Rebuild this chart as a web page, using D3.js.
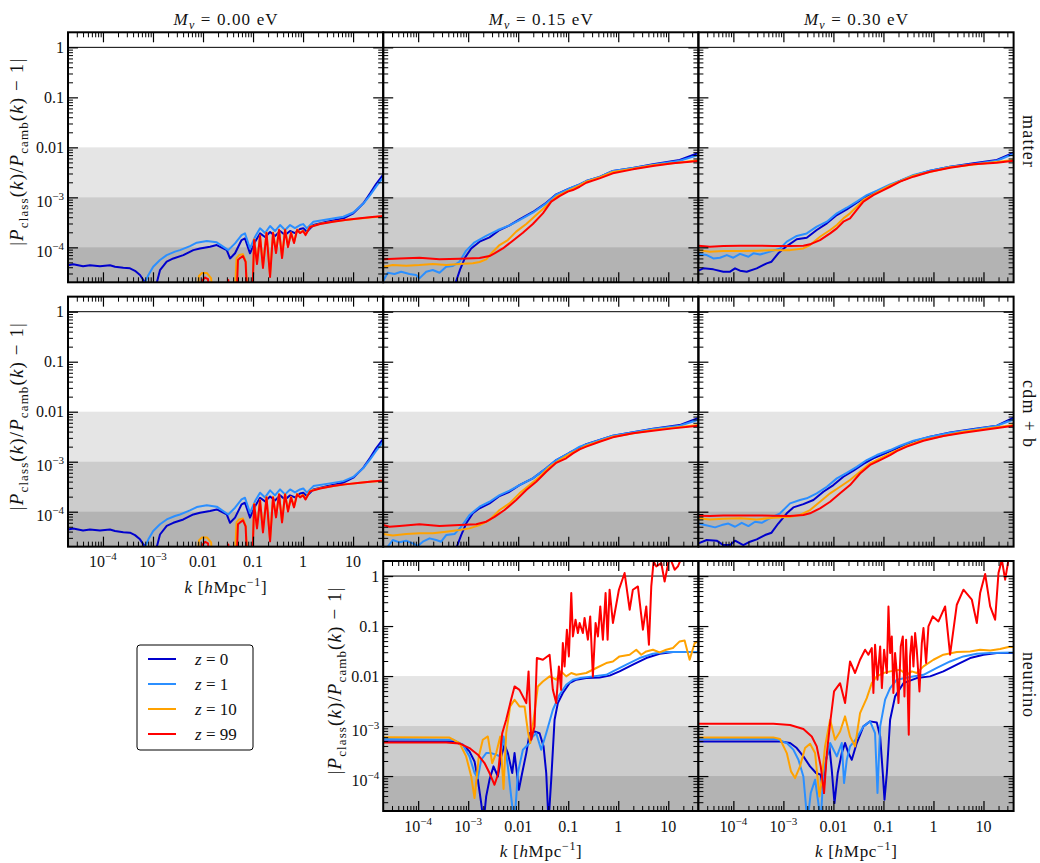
<!DOCTYPE html>
<html>
<head>
<meta charset="utf-8">
<title>CLASS vs CAMB power spectra</title>
<script src="https://cdn.jsdelivr.net/npm/d3@7/dist/d3.min.js"></script>
<style>
  html, body { margin: 0; padding: 0; background: #fff; }
  #fig text { fill: #111; }
</style>
</head>
<body>
<svg id="fig" width="1040" height="863"></svg>
<script>
// ---------------- data ----------------
const massLabels = ["0.00", "0.15", "0.30"];
const speciesLabels = ["matter", "cdm + b", "neutrino"];
const redshiftLabels = ["0", "1", "10", "99"];
const kTicks = [1e-4, 1e-3, 1e-2, 1e-1, 1, 10];
const kTickText = [["10", "−4"], ["10", "−3"], ["0.01"], ["0.1"], ["1"], ["10"]];
const yTicks = [1e-4, 1e-3, 1e-2, 1e-1, 1];
const yTickText = [["10", "−4"], ["10", "−3"], ["0.01"], ["0.1"], ["1"]];
const toleranceLevels = [1e-2, 1e-3, 1e-4];
const kDomain = [2e-5, 40];
const ratioDomain = [2e-5, 2];

// |P_class/P_camb - 1| as [k, value]; values under 2e-5 fall off the bottom
// ---- matter (and cdm+b), M_nu = 0.00 eV ----
const m000_z0 = [[2.0e-5,4.4e-5],[2.55e-5,4.6e-5],[4.0e-5,4.2e-5],[5.5e-5,4.4e-5],[8.7e-5,4.2e-5],[1.38e-4,4.4e-5],[1.74e-4,4.1e-5],[2.55e-4,3.9e-5],[3.47e-4,3.8e-5],[4.37e-4,3.4e-5],[5.5e-4,2.8e-5],[6.9e-4,2.0e-5],[7.6e-4,1.4e-5],[1.1e-3,1.3e-5],[1.19e-3,1.96e-5],[1.38e-3,3.5e-5],[1.88e-3,5.2e-5],[2.55e-3,6.0e-5],[4.04e-3,7.0e-5],[6.4e-3,8.8e-5],[8.7e-3,9.5e-5],[1.38e-2,1.03e-4],[1.88e-2,1.11e-4],[2.98e-2,8.8e-5],[3.47e-2,6.0e-5],[4.37e-2,7.6e-5],[5.9e-2,1.4e-4],[6.9e-2,1.51e-4],[8.7e-2,7.6e-5],[0.11,1.29e-4],[0.138,1.9e-4],[0.174,1.61e-4],[0.219,2.02e-4],[0.275,1.68e-4],[0.347,2.12e-4],[0.437,1.76e-4],[0.55,2.12e-4],[0.69,1.93e-4],[0.87,2.32e-4],[1.01,2.4e-4],[1.19,2.05e-4],[1.61,2.79e-4],[2.98,3.25e-4],[6.4,3.8e-4],[10.1,4.79e-4],[16.1,7.6e-4],[21.9,1.2e-3],[28.8,1.85e-3],[40,2.85e-3]];
const m000_z1 = [[6.3e-4,1.4e-5],[6.9e-4,1.96e-5],[8.1e-4,2.8e-5],[1.01e-3,4.1e-5],[1.38e-3,5.6e-5],[1.88e-3,7.0e-5],[2.75e-3,8.2e-5],[3.47e-3,8.8e-5],[5.5e-3,1.06e-4],[7.5e-3,1.24e-4],[1.19e-2,1.34e-4],[1.88e-2,1.26e-4],[3.2e-2,8.8e-5],[4.37e-2,1.2e-4],[5.9e-2,1.76e-4],[6.9e-2,1.9e-4],[8.7e-2,9.5e-5],[0.11,1.63e-4],[0.138,2.4e-4],[0.174,1.93e-4],[0.219,2.67e-4],[0.275,2.12e-4],[0.347,2.79e-4],[0.437,2.22e-4],[0.55,2.79e-4],[0.69,2.43e-4],[0.87,2.79e-4],[1.01,2.92e-4],[1.19,2.4e-4],[1.61,3.25e-4],[2.98,3.6e-4],[6.4,4.09e-4],[10.1,4.97e-4],[16.1,7.5e-4],[21.9,1.11e-3],[28.8,1.64e-3],[40,2.5e-3]];
const m000_z10 = [[7.2e-3,5e-6],[8.3e-3,2.67e-5],[9.5e-3,3.06e-5],[1.2e-2,3.06e-5],[1.45e-2,2.43e-5],[1.66e-2,5e-6],[4.17e-2,5e-6],[4.68e-2,6.1e-5],[5.25e-2,7.0e-5],[6.3e-2,7.3e-5],[7.2e-2,5.1e-5],[7.9e-2,5e-6],[9.5e-2,5e-6],[0.105,1.45e-4],[0.12,5.0e-5],[0.138,1.72e-4],[0.158,4.2e-5],[0.186,1.98e-4],[0.219,2.8e-5],[0.251,1.98e-4],[0.288,8.0e-5],[0.331,2.27e-4],[0.38,6.4e-5],[0.437,2.27e-4],[0.5,1.05e-4],[0.575,1.98e-4],[0.66,1.26e-4],[0.76,2.27e-4],[0.87,1.98e-4],[1.0,2.17e-4],[1.12,1.8e-4],[1.38,2.6e-4],[2.19,2.95e-4],[3.98,3.27e-4],[6.9,3.52e-4],[13.8,3.78e-4],[24,4.0e-4],[40,4.12e-4]];
const m000_z99 = [[8.7e-3,5e-6],[9.8e-3,2.22e-5],[1.1e-2,2.49e-5],[1.26e-2,2.32e-5],[1.41e-2,5e-6],[2.88e-2,5e-6],[3.2e-2,2.22e-5],[3.55e-2,5e-6],[4.57e-2,5e-6],[5.0e-2,5.6e-5],[5.5e-2,6.1e-5],[6.3e-2,6.7e-5],[7.1e-2,5.1e-5],[7.9e-2,5e-6],[9.5e-2,5e-6],[0.105,1.4e-4],[0.12,4.63e-5],[0.138,1.68e-4],[0.158,3.86e-5],[0.186,1.93e-4],[0.219,2.55e-5],[0.251,1.93e-4],[0.288,7.7e-5],[0.331,2.22e-4],[0.38,6.1e-5],[0.437,2.22e-4],[0.5,1.01e-4],[0.575,1.93e-4],[0.66,1.22e-4],[0.76,2.22e-4],[0.87,1.93e-4],[1.0,2.12e-4],[1.12,1.76e-4],[1.38,2.55e-4],[2.19,2.92e-4],[3.98,3.25e-4],[6.9,3.52e-4],[13.8,3.8e-4],[24,4.04e-4],[40,4.22e-4]];

// ---- matter, M_nu = 0.15 eV ----
const m015_z0 = [[2e-5,5e-6],[4.24e-4,5e-6],[5.6e-4,1.96e-5],[6.9e-4,3.63e-5],[8.7e-4,6.3e-5],[1.15e-3,9.5e-5],[1.69e-3,1.3e-4],[2.67e-3,1.58e-4],[4.24e-3,2.22e-4],[6.7e-3,2.75e-4],[1.06e-2,3.63e-4],[1.96e-2,5.1e-4],[3.63e-2,7.8e-4],[5.75e-2,1.15e-3],[9.8e-2,1.45e-3],[0.169,1.82e-3],[0.229,2.12e-3],[0.424,2.55e-3],[0.78,3.36e-3],[1.96,3.85e-3],[4.93,4.57e-3],[16.9,5.6e-3],[40,7.7e-3]];
const m015_z1 = [[2e-5,2.12e-5],[2.47e-5,3.11e-5],[3.36e-5,2.93e-5],[4.57e-5,3.26e-5],[6.7e-5,2.93e-5],[9.1e-5,2.8e-5],[1.06e-4,2.4e-5],[1.45e-4,3.26e-5],[1.96e-4,3.52e-5],[2.67e-4,3.11e-5],[3.63e-4,4.1e-5],[4.93e-4,4.24e-5],[6.7e-4,5.16e-5],[9.1e-4,8.6e-5],[1.34e-3,1.26e-4],[2.29e-3,1.69e-4],[3.92e-3,2.22e-4],[6.7e-3,2.75e-4],[1.06e-2,3.52e-4],[1.96e-2,4.93e-4],[3.63e-2,7.6e-4],[5.75e-2,1.13e-3],[9.8e-2,1.45e-3],[0.169,1.82e-3],[0.229,2.12e-3],[0.424,2.55e-3],[0.78,3.36e-3],[1.96,3.85e-3],[4.93,4.5e-3],[16.9,5.4e-3],[40,7.0e-3]];
const m015_z10 = [[2e-5,4.1e-5],[3.11e-5,4.43e-5],[5.75e-5,4.3e-5],[1.06e-4,4.43e-5],[1.96e-4,4.64e-5],[3.63e-4,4.43e-5],[6.7e-4,4.64e-5],[1.24e-3,4.79e-5],[1.69e-3,5.1e-5],[2.29e-3,5.75e-5],[3.11e-3,8.2e-5],[4.24e-3,1.11e-4],[6.2e-3,1.4e-4],[9.1e-3,2.06e-4],[1.45e-2,2.93e-4],[2.29e-2,4.43e-4],[3.63e-2,6.7e-4],[5.75e-2,1.03e-3],[9.8e-2,1.34e-3],[0.169,1.74e-3],[0.229,2.06e-3],[0.424,2.5e-3],[0.78,3.21e-3],[1.96,3.75e-3],[4.93,4.4e-3],[16.9,5.0e-3],[40,5.5e-3]];
const m015_z99 = [[2e-5,5.75e-5],[4.24e-5,6.0e-5],[1.06e-4,6.2e-5],[2.67e-4,5.8e-5],[6.7e-4,5.9e-5],[1.69e-3,6.1e-5],[2.67e-3,6.7e-5],[3.36e-3,7.6e-5],[4.93e-3,9.5e-5],[7.8e-3,1.36e-4],[1.24e-2,1.96e-4],[1.96e-2,2.93e-4],[3.11e-2,4.79e-4],[4.57e-2,8.2e-4],[6.7e-2,1.06e-3],[9.8e-2,1.3e-3],[0.124,1.4e-3],[0.169,1.63e-3],[0.229,1.96e-3],[0.424,2.4e-3],[0.78,3.02e-3],[1.96,3.63e-3],[4.93,4.24e-3],[12.4,4.79e-3],[40,5.33e-3]];

// ---- matter, M_nu = 0.30 eV ----
const m030_z0 = [[2e-5,3.41e-5],[2.51e-5,3.8e-5],[3.98e-5,3.63e-5],[6.3e-5,3.26e-5],[8.6e-5,3.26e-5],[1.08e-4,3.8e-5],[1.36e-4,3.41e-5],[1.85e-4,3.26e-5],[2.93e-4,3.8e-5],[4.64e-4,4.79e-5],[5.8e-4,5.16e-5],[7.9e-4,7.6e-5],[1.17e-3,1.06e-4],[1.85e-3,1.45e-4],[2.93e-3,1.56e-4],[4.64e-3,2.22e-4],[7.4e-3,3.02e-4],[1.17e-2,4.43e-4],[1.85e-2,5.75e-4],[2.93e-2,7.8e-4],[4.64e-2,1.06e-3],[7.4e-2,1.32e-3],[0.136,1.74e-3],[0.215,2.12e-3],[0.398,2.71e-3],[0.857,3.41e-3],[2.15,4.1e-3],[6.3,4.79e-3],[18.5,5.58e-3],[40,7.8e-3]];
const m030_z1 = [[2e-5,7.4e-5],[2.93e-5,7.0e-5],[3.98e-5,6.0e-5],[5.4e-5,6.2e-5],[7.4e-5,7.0e-5],[1e-4,6.2e-5],[1.36e-4,7.4e-5],[2e-4,6.5e-5],[2.51e-4,7.6e-5],[3.41e-4,7.2e-5],[5.4e-4,8.2e-5],[8.6e-4,9.5e-5],[1.17e-3,1.3e-4],[1.85e-3,1.69e-4],[2.93e-3,1.9e-4],[4.64e-3,2.59e-4],[7.4e-3,3.26e-4],[1.17e-2,4.79e-4],[1.85e-2,6.2e-4],[2.93e-2,8.2e-4],[4.64e-2,1.11e-3],[7.4e-2,1.36e-3],[0.136,1.82e-3],[0.215,2.15e-3],[0.398,2.8e-3],[0.857,3.41e-3],[2.15,4.1e-3],[6.3,4.64e-3],[18.5,5.4e-3],[40,7.4e-3]];
const m030_z10 = [[2e-5,8.8e-5],[3.41e-5,8.2e-5],[6.3e-5,8.45e-5],[1.36e-4,8.45e-5],[2.93e-4,8.6e-5],[6.3e-4,8.8e-5],[1.36e-3,8.8e-5],[2.51e-3,9.5e-5],[3.41e-3,1.11e-4],[5.4e-3,1.63e-4],[8.6e-3,2.22e-4],[1.17e-2,2.8e-4],[1.58e-2,3.8e-4],[2.15e-2,4.79e-4],[2.93e-2,6.5e-4],[3.98e-2,8.9e-4],[6.3e-2,1.15e-3],[0.1,1.47e-3],[0.136,1.74e-3],[0.398,2.71e-3],[2.15,4.0e-3],[40,5.6e-3]];
const m030_z99 = [[2e-5,1.08e-4],[3.41e-5,1.03e-4],[6.3e-5,1.06e-4],[1.36e-4,1.08e-4],[2.93e-4,1.08e-4],[6.3e-4,1.06e-4],[1.36e-3,1.06e-4],[2.51e-3,1.08e-4],[3.41e-3,1.15e-4],[5.4e-3,1.4e-4],[8.6e-3,1.9e-4],[1.17e-2,2.4e-4],[1.58e-2,3.26e-4],[2.15e-2,3.8e-4],[2.93e-2,5.6e-4],[3.98e-2,8.2e-4],[6.3e-2,1.11e-3],[0.1,1.4e-3],[0.136,1.63e-3],[0.215,2.06e-3],[0.398,2.59e-3],[0.857,3.26e-3],[2.15,3.92e-3],[6.3,4.57e-3],[18.5,4.93e-3],[40,5.4e-3]];

// ---- cdm + b, M_nu = 0.15 eV ----
const c015_z0 = [[2e-5,5e-6],[4.57e-4,5e-6],[5.93e-4,2e-5],[7.24e-4,3.41e-5],[9.1e-4,5.8e-5],[1.24e-3,9.3e-5],[1.69e-3,1.17e-4],[2.67e-3,1.47e-4],[4.24e-3,2.06e-4],[6.7e-3,2.51e-4],[1.06e-2,3.41e-4],[1.96e-2,4.64e-4],[3.63e-2,7.4e-4],[5.75e-2,1.08e-3],[0.106,1.51e-3],[0.229,2.24e-3],[0.78,3.31e-3],[4.93,4.57e-3],[16.9,5.4e-3],[40,7.5e-3]];
const c015_z1 = [[2e-5,1.5e-5],[2.47e-5,2e-5],[3.11e-5,2.71e-5],[4.24e-5,2.44e-5],[5.75e-5,2.63e-5],[7.8e-5,2.33e-5],[9.85e-5,2.06e-5],[1.24e-4,2.51e-5],[1.69e-4,2.93e-5],[2.29e-4,2.71e-5],[2.88e-4,2.51e-5],[3.63e-4,3.41e-5],[5.33e-4,3.57e-5],[7.24e-4,5.0e-5],[1.06e-3,8.6e-5],[1.69e-3,1.26e-4],[2.67e-3,1.58e-4],[4.24e-3,2.15e-4],[6.7e-3,2.63e-4],[1.06e-2,3.41e-4],[1.96e-2,4.64e-4],[3.63e-2,7.4e-4],[5.75e-2,1.08e-3],[0.106,1.51e-3],[0.169,2.0e-3],[0.229,2.22e-3],[0.78,3.31e-3],[4.93,4.5e-3],[16.9,5.25e-3],[40,6.9e-3]];
const c015_z10 = [[2e-5,3.57e-5],[3.11e-5,3.36e-5],[5.75e-5,3.57e-5],[1.06e-4,3.69e-5],[1.96e-4,3.69e-5],[3.63e-4,3.98e-5],[6.7e-4,4.3e-5],[1.06e-3,4.64e-5],[1.69e-3,5.4e-5],[2.67e-3,6.8e-5],[4.24e-3,1.08e-4],[6.7e-3,1.47e-4],[1.06e-2,2.33e-4],[1.69e-2,3.41e-4],[2.67e-2,5.0e-4],[4.24e-2,7.9e-4],[6.7e-2,1.08e-3],[0.106,1.42e-3],[0.229,2.09e-3],[0.78,3.16e-3],[4.93,4.3e-3],[40,5.4e-3]];
const c015_z99 = [[2e-5,5.4e-5],[2.67e-5,5.0e-5],[4.24e-5,5.16e-5],[1.06e-4,5.6e-5],[2.67e-4,5.16e-5],[6.7e-4,5.4e-5],[1.45e-3,5.6e-5],[2.29e-3,6.3e-5],[3.36e-3,7.9e-5],[5.33e-3,1.08e-4],[9.1e-3,1.71e-4],[1.45e-2,2.71e-4],[2.29e-2,3.98e-4],[3.63e-2,6.3e-4],[5.75e-2,9.5e-4],[9.1e-2,1.17e-3],[0.124,1.47e-3],[0.169,1.77e-3],[0.229,2.0e-3],[0.424,2.51e-3],[0.78,3.07e-3],[1.96,3.69e-3],[4.93,4.17e-3],[12.4,4.64e-3],[40,5.25e-3]];

// ---- cdm + b, M_nu = 0.30 eV ----
const c030_z0 = [[2e-5,2.33e-5],[2.93e-5,2.71e-5],[4.64e-5,2.63e-5],[6.3e-5,2.15e-5],[8.6e-5,2.15e-5],[1.08e-4,2.63e-5],[1.58e-4,2.15e-5],[2.15e-4,2.51e-5],[2.93e-4,2.8e-5],[4.3e-4,3.41e-5],[5.8e-4,3.8e-5],[7.9e-4,5.8e-5],[1.17e-3,9.3e-5],[1.58e-3,1.22e-4],[2.51e-3,1.42e-4],[3.98e-3,1.71e-4],[6.3e-3,2.51e-4],[1e-2,3.41e-4],[1.58e-2,5.0e-4],[2.51e-2,6.6e-4],[3.98e-2,9.0e-4],[6.3e-2,1.17e-3],[0.1,1.42e-3],[0.185,1.85e-3],[0.398,2.55e-3],[0.857,3.16e-3],[2.15,3.86e-3],[6.3,4.5e-3],[18.5,5.25e-3],[40,7.6e-3]];
const c030_z1 = [[2e-5,5.8e-5],[2.71e-5,5.4e-5],[4.3e-5,4.86e-5],[5.85e-5,5.4e-5],[7.94e-5,5.8e-5],[1.08e-4,5.0e-5],[1.47e-4,6.0e-5],[2e-4,5.16e-5],[2.71e-4,6.3e-5],[3.69e-4,6.0e-5],[5.4e-4,7.4e-5],[8.6e-4,9.3e-5],[1.36e-3,1.47e-4],[2.15e-3,1.71e-4],[2.93e-3,1.85e-4],[4.64e-3,2.33e-4],[7.4e-3,3.16e-4],[1.17e-2,4.64e-4],[1.85e-2,6.0e-4],[2.93e-2,7.9e-4],[4.64e-2,1.08e-3],[7.4e-2,1.36e-3],[0.136,1.71e-3],[0.215,2.09e-3],[0.398,2.63e-3],[0.857,3.16e-3],[2.15,3.8e-3],[6.3,4.43e-3],[18.5,5.25e-3],[40,7.0e-3]];
const c030_z10 = [[2e-5,7.4e-5],[3.41e-5,7.0e-5],[6.3e-5,7.2e-5],[1.36e-4,7.4e-5],[2.93e-4,7.0e-5],[6.3e-4,7.6e-5],[1.36e-3,7.9e-5],[2.15e-3,8.6e-5],[3.41e-3,1.08e-4],[5.4e-3,1.58e-4],[8.6e-3,2.33e-4],[1.36e-2,3.16e-4],[2.15e-2,4.3e-4],[3.41e-2,6.3e-4],[5.41e-2,9.3e-4],[8.57e-2,1.17e-3],[0.136,1.47e-3],[0.293,2.09e-3],[0.631,2.71e-3],[3.98,3.98e-3],[40,5.4e-3]];
const c030_z99 = [[2e-5,8.3e-5],[3.41e-5,8.2e-5],[6.3e-5,8.4e-5],[1.36e-4,8.4e-5],[2.93e-4,8.4e-5],[6.3e-4,8.3e-5],[1.36e-3,8.2e-5],[2.51e-3,8.6e-5],[3.41e-3,9.3e-5],[5.4e-3,1.17e-4],[8.6e-3,1.58e-4],[1.36e-2,2.33e-4],[2.15e-2,3.41e-4],[3.41e-2,5.8e-4],[5.41e-2,8.6e-4],[8.57e-2,1.08e-3],[0.136,1.36e-3],[0.185,1.63e-3],[0.293,2.0e-3],[0.631,2.63e-3],[1.58,3.26e-3],[3.98,3.8e-3],[13.6,4.5e-3],[40,5.25e-3]];

// ---- neutrino, M_nu = 0.15 eV ----
const n015_z0 = [[2e-5,4.93e-4],[4.93e-4,4.93e-4],[7.8e-4,4.24e-4],[1.06e-3,3.11e-4],[1.34e-3,1.96e-4],[1.56e-3,8.5e-5],[1.82e-3,2.88e-5],[2.03e-3,1.2e-5],[2.29e-3,3.92e-5],[2.67e-3,8.5e-5],[3.21e-3,1.56e-4],[3.92e-3,9.8e-5],[4.57e-3,2.47e-4],[5.33e-3,4.24e-4],[6.2e-3,2.88e-4],[7.6e-3,1.15e-4],[8.45e-3,2.88e-4],[1.03e-2,5.3e-5],[1.2e-2,1.15e-4],[1.45e-2,2.88e-4],[1.69e-2,7.2e-4],[2.12e-2,7.8e-4],[2.67e-2,7.2e-4],[3.21e-2,3.92e-4],[3.63e-2,1.15e-4],[4.04e-2,1.2e-5],[4.57e-2,8.5e-5],[5.33e-2,1.34e-3],[6.2e-2,2.88e-3],[7.8e-2,4.57e-3],[0.106,7.2e-3],[0.145,8.45e-3],[0.229,9.1e-3],[0.424,9.4e-3],[0.671,1.02e-2],[1.06,1.24e-2],[1.96,1.69e-2],[3.63,2.29e-2],[6.7,2.8e-2],[12.4,3.02e-2],[40,3.02e-2]];
const n015_z1 = [[2e-5,5.5e-4],[4.93e-4,5.33e-4],[7.8e-4,4.24e-4],[1.06e-3,2.47e-4],[1.34e-3,1.15e-4],[1.56e-3,9.1e-5],[1.82e-3,2.12e-4],[2.29e-3,2.88e-4],[2.88e-3,2.88e-4],[3.63e-3,2.67e-4],[4.37e-3,2.47e-4],[5.09e-3,6.2e-4],[6.2e-3,1.56e-4],[7.6e-3,2.47e-5],[8.45e-3,1.2e-5],[9.85e-3,1.15e-4],[1.24e-2,3.37e-4],[1.69e-2,4.57e-4],[1.96e-2,6.2e-4],[2.29e-2,7.2e-4],[2.88e-2,3.37e-4],[3.63e-2,7.2e-4],[4.93e-2,2.12e-3],[6.7e-2,4.24e-3],[9.1e-2,6.7e-3],[0.124,8.45e-3],[0.169,9.1e-3],[0.311,9.85e-3],[0.575,1.06e-2],[0.782,1.24e-2],[1.45,1.69e-2],[2.67,2.29e-2],[4.93,2.8e-2],[9.1,3.02e-2],[16.9,3.02e-2],[40,3.02e-2]];
const n015_z10 = [[2e-5,6.0e-4],[4.24e-4,5.9e-4],[6.7e-4,4.57e-4],[9.1e-4,2.47e-4],[1.15e-3,9.8e-5],[1.34e-3,3.63e-5],[1.63e-3,2.47e-4],[1.96e-3,5.33e-4],[2.47e-3,6.2e-4],[3.02e-3,1.82e-4],[3.63e-3,2.88e-4],[4.37e-3,6.2e-4],[5.09e-3,5.5e-5],[5.75e-3,7.24e-4],[6.9e-3,2.47e-3],[8.45e-3,3.36e-3],[1.06e-2,2.47e-3],[1.34e-2,2.47e-3],[1.56e-2,7.8e-4],[1.74e-2,4.57e-4],[2.03e-2,1.34e-3],[2.47e-2,6.2e-3],[3.11e-2,7.8e-3],[4.24e-2,9.85e-3],[5.75e-2,8.45e-3],[7.2e-2,1.24e-2],[9.1e-2,9.85e-3],[0.115,1.15e-2],[0.145,1.06e-2],[0.229,1.15e-2],[0.363,1.45e-2],[0.575,1.82e-2],[0.782,1.96e-2],[1.06,2.47e-2],[1.69,2.67e-2],[2.29,3.36e-2],[2.88,2.67e-2],[3.63,3.11e-2],[4.93,3.36e-2],[6.7,2.97e-2],[9.1,3.36e-2],[12.4,3.63e-2],[16.9,4.93e-2],[21.2,5.16e-2],[26.7,2.12e-2],[33.7,4.57e-2],[40,5.0e-2]];
const n015_z99 = [[2e-5,4.7e-4],[7.8e-5,4.7e-4],[3.63e-4,4.7e-4],[6.7e-4,4.5e-4],[1.06e-3,3.63e-4],[1.56e-3,2.67e-4],[2.12e-3,1.82e-4],[2.67e-3,1.15e-4],[3.36e-3,6.7e-5],[3.92e-3,1.06e-4],[4.79e-3,7.2e-4],[5.75e-3,1.34e-3],[7.2e-3,3.36e-3],[8.45e-3,6.2e-3],[1.06e-2,5.3e-3],[1.45e-2,2.88e-3],[1.61e-2,1.24e-2],[1.82e-2,5.3e-4],[2.12e-2,9.8e-4],[2.36e-2,2.29e-2],[3.11e-2,2.12e-2],[4.24e-2,2.67e-2],[4.93e-2,5.3e-3],[5.75e-2,2.88e-3],[6.5e-2,1.56e-2],[7.2e-2,5.3e-3],[7.8e-2,4.57e-2],[8.45e-2,1.56e-2],[9.4e-2,8.45e-2],[0.103,2.47e-2],[0.115,0.457],[0.124,6.2e-2],[0.14,0.134],[0.156,7.24e-2],[0.169,0.115],[0.196,7.24e-2],[0.212,0.145],[0.247,5.33e-2],[0.275,0.156],[0.311,9.85e-3],[0.352,0.115],[0.392,6.2e-2],[0.437,0.247],[0.493,5.33e-2],[0.558,0.457],[0.612,5.33e-2],[0.671,0.533],[0.782,0.115],[1.03,0.533],[1.34,1.15],[1.69,0.212],[1.96,0.533],[2.47,0.62],[3.11,8.45e-2],[3.63,0.247],[4.1,4.24e-2],[4.57,0.62],[5.09,1.96],[5.75,1.56],[7.24,1.82],[8.45,0.78],[10.6,2.47],[13.4,1.34],[15.6,1.56],[18.2,2.29],[22.9,2.88],[36.3,3.36]];

// ---- neutrino, M_nu = 0.30 eV ----
const n030_z0 = [[2e-5,4.93e-4],[8.57e-4,4.93e-4],[1.36e-3,4.57e-4],[1.85e-3,3.63e-4],[2.51e-3,2.47e-4],[3.41e-3,1.56e-4],[4.5e-3,1.15e-4],[5.58e-3,1.06e-4],[6.3e-3,4.57e-5],[7.13e-3,2.12e-4],[8.3e-3,3.92e-4],[9.26e-3,1.34e-4],[1.05e-2,2.88e-5],[1.22e-2,1.15e-4],[1.47e-2,2.88e-4],[1.71e-2,4.57e-4],[2.0e-2,2.88e-4],[2.33e-2,2.12e-4],[2.93e-2,4.57e-4],[3.98e-2,9.85e-4],[5.41e-2,1.24e-3],[7.36e-2,1.18e-3],[8.6e-2,6.2e-4],[9.7e-2,1.15e-4],[0.105,3.37e-5],[0.117,1.15e-4],[0.136,1.34e-3],[0.171,3.92e-3],[0.251,7.2e-3],[0.464,9.1e-3],[0.857,9.85e-3],[1.58,1.24e-2],[2.93,1.69e-2],[5.41,2.29e-2],[10,2.67e-2],[18.5,2.88e-2],[40,2.88e-2]];
const n030_z1 = [[2e-5,5.5e-4],[7.36e-4,5.5e-4],[1.17e-3,4.57e-4],[1.58e-3,3.37e-4],[2e-3,2.12e-4],[2.51e-3,9.8e-5],[3.02e-3,1.2e-5],[3.52e-3,4.57e-5],[4.3e-3,8.45e-5],[5.0e-3,2.88e-5],[5.58e-3,1.2e-5],[6.3e-3,1.15e-4],[7.4e-3,2.47e-4],[8.6e-3,4.57e-4],[1.17e-2,2.47e-4],[1.47e-2,4.57e-4],[1.63e-2,7.24e-5],[1.85e-2,2.12e-4],[2.15e-2,3.92e-4],[2.93e-2,5.75e-4],[3.98e-2,9.85e-4],[5.41e-2,1.24e-3],[6.8e-2,7.2e-4],[7.6e-2,4.57e-5],[8.6e-2,9.85e-4],[0.108,3.37e-3],[0.136,5.75e-3],[0.185,8.45e-3],[0.341,9.55e-3],[0.631,1.06e-2],[1.17,1.45e-2],[2.15,1.96e-2],[3.98,2.47e-2],[7.36,2.8e-2],[13.6,2.88e-2],[40,2.97e-2]];
const n030_z10 = [[2e-5,5.93e-4],[6.3e-4,5.93e-4],[8.57e-4,5.5e-4],[1.17e-3,2.88e-4],[1.42e-3,1.24e-4],[1.71e-3,9.1e-5],[2.15e-3,1.56e-4],[2.71e-3,3.63e-4],[3.41e-3,4.43e-4],[4.3e-3,2.88e-4],[5.25e-3,3.92e-5],[5.85e-3,8.45e-5],[6.8e-3,3.92e-4],[8.6e-3,1.34e-3],[1.08e-2,5.33e-4],[1.36e-2,7.8e-4],[1.71e-2,1.56e-3],[2.15e-2,6.2e-4],[2.71e-2,3.92e-4],[3.41e-2,1.82e-3],[4.64e-2,3.63e-3],[5.85e-2,7.2e-3],[7.36e-2,9.85e-3],[0.1,1.15e-2],[0.136,1.24e-2],[0.215,1.34e-2],[0.293,1.06e-2],[0.369,1.24e-2],[0.464,1.15e-2],[0.631,1.56e-2],[1.0,2.12e-2],[1.58,2.67e-2],[2.93,3.02e-2],[5.41,3.11e-2],[8.57,3.36e-2],[13.6,3.26e-2],[21.5,3.47e-2],[31.6,3.8e-2],[40,3.8e-2]];
const n030_z99 = [[2e-5,1.11e-3],[6.3e-4,1.11e-3],[1.36e-3,1.05e-3],[2.51e-3,8.7e-4],[3.69e-3,6.2e-4],[4.64e-3,3.92e-4],[5.58e-3,1.56e-4],[6.5e-3,4.57e-5],[7.4e-3,2.88e-4],[8.6e-3,1.15e-3],[1.03e-2,4.93e-3],[1.36e-2,7.2e-3],[1.71e-2,2.88e-3],[2.15e-2,1.96e-2],[2.71e-2,1.15e-2],[3.41e-2,2.12e-2],[4.3e-2,3.36e-2],[5.0e-2,2.67e-2],[5.85e-2,3.63e-2],[6.3e-2,4.57e-3],[6.8e-2,4.24e-2],[7.6e-2,8.45e-3],[8.6e-2,3.92e-2],[9.3e-2,5.75e-3],[0.103,3.36e-2],[0.117,1.15e-2],[0.126,0.247],[0.136,2.88e-2],[0.147,6.2e-2],[0.158,4.57e-3],[0.171,2.88e-2],[0.185,1.15e-2],[0.2,2.88e-3],[0.222,3.92e-2],[0.244,6.2e-2],[0.263,3.92e-3],[0.284,5.33e-2],[0.302,8.45e-3],[0.321,6.7e-4],[0.341,2.47e-2],[0.369,6.2e-2],[0.398,1.56e-2],[0.43,7.24e-2],[0.464,3.36e-2],[0.525,4.93e-3],[0.585,4.57e-2],[0.631,9.1e-2],[0.713,1.82e-2],[0.794,9.85e-2],[0.97,0.156],[1.26,0.124],[1.71,0.247],[2.15,2.67e-2],[2.93,0.267],[3.98,0.533],[5.85,0.337],[7.36,0.115],[8.57,0.457],[10.8,1.1],[13.6,0.247],[17.1,0.134],[19.95,1.15],[23.3,2.12],[27.1,0.845],[31.6,2.12],[39.8,2.88]];

// grid of panels: rows = species, columns = neutrino mass
const panelSeries = [
  [[m000_z0, m000_z1, m000_z10, m000_z99], [m015_z0, m015_z1, m015_z10, m015_z99], [m030_z0, m030_z1, m030_z10, m030_z99]],
  [[m000_z0, m000_z1, m000_z10, m000_z99], [c015_z0, c015_z1, c015_z10, c015_z99], [c030_z0, c030_z1, c030_z10, c030_z99]],
  [null, [n015_z0, n015_z1, n015_z10, n015_z99], [n030_z0, n030_z1, n030_z10, n030_z99]]
];

// ---------------- font selection ----------------
// pick the first serif face the browser actually has
function hasFont(name) {
  const ctx = document.createElement("canvas").getContext("2d");
  const probe = "mmmmmmmmmwwwwwllliiiQ0123456789";
  return ["monospace", "sans-serif", "cursive"].some(base => {
    ctx.font = `40px ${base}`;
    const w0 = ctx.measureText(probe).width;
    ctx.font = `40px "${name}", ${base}`;
    return ctx.measureText(probe).width !== w0;
  });
}
const serifFaces = ["Liberation Serif", "DejaVu Serif", "Noto Serif", "Tinos", "Times New Roman", "Times",
  "FreeSerif", "Nimbus Roman", "Nimbus Roman No9 L", "TeX Gyre Termes", "Latin Modern Roman", "CMU Serif",
  "STIX Two Text", "STIXGeneral", "Georgia", "Droid Serif", "Bitstream Vera Serif", "Noto Serif CJK SC",
  "Noto Serif CJK JP", "Source Serif Pro", "Gelasio", "Linux Libertine O", "C059", "P052"];
const found = serifFaces.find(hasFont);
const FONT = (found ? `"${found}", ` : "") + "serif";

// ---------------- styles & layout ----------------
const lineColors = ["#0000cd", "#2b8fff", "#ffa200", "#ff0000"];
const bandFills = ["#e5e5e5", "#cccccc", "#b3b3b3"];
const W = 315.2, H = 250;
const colLeft = [68, 383.2, 698.4];
const rowTop = [32.3, 296.65, 561];
const showYLabels = (r, c) => (c === 0 && r < 2) || (r === 2 && c === 1);
const showXLabels = (r, c) => (r === 1 && c === 0) || r === 2;

const svg = d3.select("#fig").style("font-family", FONT);
svg.append("rect").attr("width", 1040).attr("height", 863).attr("fill", "#fff");

// writes a mix of roman / italic / sub / superscript pieces into a text element
function rich(text, parts, size) {
  text.style("font-family", FONT);
  let shift = 0;
  parts.forEach(p => {
    const target = p.sub ? size * 0.28 : p.sup ? -size * 0.42 : 0;
    const ts = text.append("tspan").text(p.t).attr("dy", target - shift);
    shift = target;
    if (p.i) ts.style("font-style", "italic");
    if (p.sub || p.sup) ts.attr("font-size", Math.round(size * 0.7));
  });
  return text;
}

const x = d3.scaleLog().domain(kDomain).range([0, W]);
const y = d3.scaleLog().domain(ratioDomain).range([H, 0]);

function minorTicks(domain) {
  const out = [];
  const lo = Math.floor(Math.log10(domain[0])), hi = Math.ceil(Math.log10(domain[1]));
  for (let e = lo; e <= hi; e++) {
    for (let m = 2; m <= 9; m++) {
      const v = m * Math.pow(10, e);
      if (v > domain[0] * 1.001 && v < domain[1] * 0.999) out.push(v);
    }
  }
  return out;
}
const kMinor = minorTicks(kDomain);
const yMinor = minorTicks(ratioDomain);

const line = d3.line().x(d => x(d[0])).y(d => y(d[1]));

const defs = svg.append("defs");
defs.append("clipPath").attr("id", "plotArea")
  .append("rect").attr("x", 0).attr("y", 0).attr("width", W).attr("height", H);

for (let r = 0; r < 3; r++) {
  for (let c = 0; c < 3; c++) {
    const series = panelSeries[r][c];
    if (!series) continue;
    const g = svg.append("g").attr("transform", `translate(${colLeft[c]},${rowTop[r]})`);

    // shaded tolerance bands
    toleranceLevels.forEach((lvl, i) => {
      g.append("rect").attr("x", 0).attr("width", W)
        .attr("y", y(lvl)).attr("height", H - y(lvl))
        .attr("fill", bandFills[i]);
    });
    // unity reference line
    g.append("line").attr("x1", 0).attr("x2", W).attr("y1", y(1)).attr("y2", y(1))
      .attr("stroke", "#000").attr("stroke-width", 1);

    const curves = g.append("g").attr("clip-path", "url(#plotArea)");
    series.forEach((s, i) => {
      curves.append("path").datum(s).attr("d", line)
        .attr("fill", "none").attr("stroke", lineColors[i])
        .attr("stroke-width", 2).attr("stroke-linejoin", "round");
    });

    // inward ticks on all four sides
    const sides = [
      [d3.axisBottom, x, `translate(0,${H})`, kTicks, kMinor],
      [d3.axisTop, x, null, kTicks, kMinor],
      [d3.axisLeft, y, null, yTicks, yMinor],
      [d3.axisRight, y, `translate(${W},0)`, yTicks, yMinor]
    ];
    sides.forEach(([axisFn, sc, tr, major, minor]) => {
      [[major, 10, 1.2], [minor, 5, 1]].forEach(([vals, len, sw]) => {
        const ax = g.append("g").call(axisFn(sc).tickValues(vals).tickSize(-len).tickFormat(""));
        if (tr) ax.attr("transform", tr);
        ax.select(".domain").remove();
        ax.selectAll("line").attr("stroke", "#000").attr("stroke-width", sw);
      });
    });

    g.append("rect").attr("x", 0).attr("y", 0).attr("width", W).attr("height", H)
      .attr("fill", "none").attr("stroke", "#000").attr("stroke-width", 2);

    if (showYLabels(r, c)) {
      yTicks.forEach((t, i) => {
        const parts = yTickText[i];
        const txt = g.append("text").attr("x", -4)
          .attr("y", y(t) + (parts.length > 1 ? 9.5 : 5.5))
          .attr("text-anchor", "end").attr("font-size", 16);
        rich(txt, parts.length > 1 ? [{ t: parts[0] }, { t: parts[1], sup: true }] : [{ t: parts[0] }], 16);
      });
      const yl = g.append("text")
        .attr("transform", `translate(${(c === 0 ? 23 : 341) - colLeft[c]},${H / 2 - 5}) rotate(-90)`)
        .attr("text-anchor", "middle").attr("font-size", 19)
        .attr("textLength", 187).attr("lengthAdjust", "spacing");
      rich(yl, [{ t: "|" }, { t: "P", i: true }, { t: "class", sub: true }, { t: "(" }, { t: "k", i: true },
        { t: ")/" }, { t: "P", i: true }, { t: "camb", sub: true }, { t: "(" }, { t: "k", i: true }, { t: ") − 1|" }], 19);
    }
    if (showXLabels(r, c)) {
      kTicks.forEach((t, i) => {
        const parts = kTickText[i];
        const txt = g.append("text").attr("x", x(t)).attr("y", H + 20.5)
          .attr("text-anchor", "middle").attr("font-size", 16);
        rich(txt, parts.length > 1 ? [{ t: parts[0] }, { t: parts[1], sup: true }] : [{ t: parts[0] }], 16);
      });
      const xl = g.append("text").attr("x", W / 2).attr("y", H + 46)
        .attr("text-anchor", "middle").attr("font-size", 17)
        .attr("textLength", 82).attr("lengthAdjust", "spacing");
      rich(xl, [{ t: "k", i: true }, { t: " [" }, { t: "h", i: true }, { t: "Mpc" }, { t: "−1", sup: true }, { t: "]" }], 17);
    }
  }
}

// column titles
massLabels.forEach((m, c) => {
  const t = svg.append("text").attr("x", colLeft[c] + W / 2).attr("y", 24.5)
    .attr("text-anchor", "middle").attr("font-size", 17)
    .attr("textLength", 104).attr("lengthAdjust", "spacing");
  rich(t, [{ t: "M", i: true }, { t: "ν", i: true, sub: true }, { t: " = " + m + " eV" }], 17);
});

// row labels on the right
const rowLabelCenter = [141, 413.5, 684.5];
const rowLabelLen = [52, 67, 65];
speciesLabels.forEach((s, r) => {
  const t = svg.append("text").attr("transform", `translate(1023,${rowLabelCenter[r]}) rotate(90)`)
    .attr("text-anchor", "middle").attr("font-size", 18)
    .attr("textLength", rowLabelLen[r]).attr("lengthAdjust", "spacing");
  rich(t, [{ t: s }], 18);
});

// legend
const lg = svg.append("g");
lg.append("rect").attr("x", 137).attr("y", 645).attr("width", 116).attr("height", 105)
  .attr("rx", 3).attr("fill", "#fff").attr("stroke", "#000").attr("stroke-width", 1);
redshiftLabels.forEach((z, i) => {
  const yy = 659 + i * 25;
  lg.append("line").attr("x1", 148).attr("x2", 176).attr("y1", yy).attr("y2", yy)
    .attr("stroke", lineColors[i]).attr("stroke-width", 2);
  const t = lg.append("text").attr("x", 195).attr("y", yy + 6).attr("font-size", 17);
  rich(t, [{ t: "z", i: true }, { t: " = " + z }], 17);
});
</script>
</body>
</html>
